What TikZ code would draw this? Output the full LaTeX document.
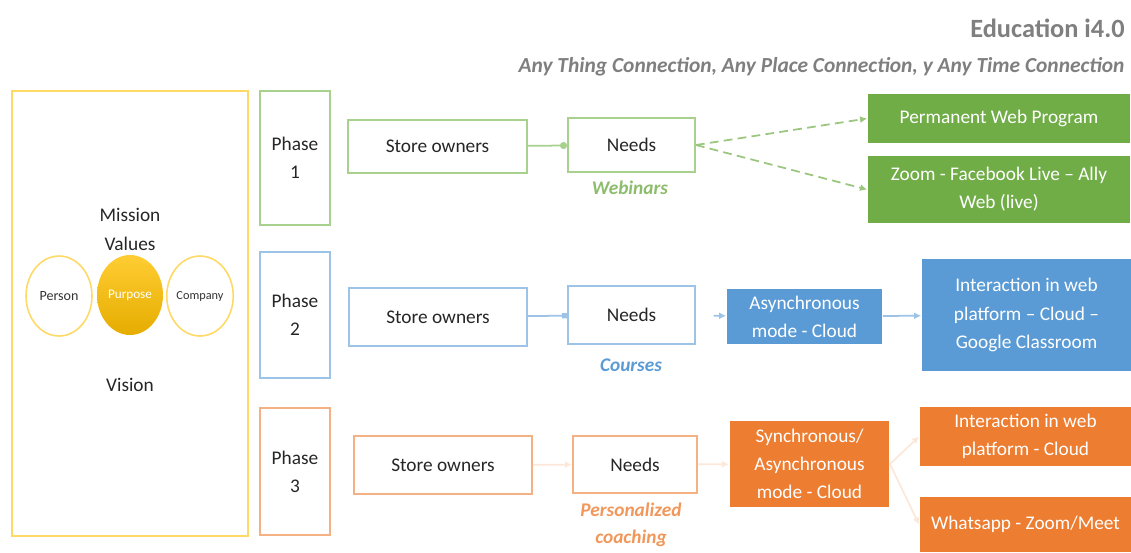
\documentclass[tikz,border=0pt]{standalone}
\usepackage{fontspec}
\setmainfont{Carlito}
\usetikzlibrary{arrows.meta,shapes.geometric}
\definecolor{offgreen}{HTML}{70AD47}
\definecolor{litegreen}{HTML}{A9D18E}
\definecolor{offblue}{HTML}{5B9BD5}
\definecolor{liteblue}{HTML}{9DC3E6}
\definecolor{offorange}{HTML}{ED7D31}
\definecolor{liteorange}{HTML}{F4B183}
\definecolor{gold}{HTML}{FFC000}
\definecolor{litegold}{HTML}{FFD966}
\definecolor{titlegray}{HTML}{7F7F7F}
\tikzset{
  box/.style={draw, line width=1.1pt, align=center, inner sep=0pt,
    font=\fontsize{11}{16}\selectfont, text=black!85},
  fillbox/.style={box, draw=none, text=white},
  tag/.style={font=\fontsize{11}{15}\selectfont\bfseries\itshape, align=center},
  ring/.style={ellipse, draw=litegold, line width=0.9pt, inner sep=0pt,
    minimum width=1.32cm, minimum height=1.6cm, text=black!80},
  link/.style={line width=1pt, -{Latex[length=4pt,width=4pt]}},
}
\begin{document}
\begin{tikzpicture}[x=0.02cm,y=-0.02cm]
  \useasboundingbox (0,0) rectangle (1131,552);
  % title
  \node[anchor=east, inner sep=0pt, text=titlegray, font=\fontsize{15}{18}\selectfont\bfseries]
    (title) at (1125,28) {Education i4.0};
  \node[anchor=east, inner sep=0pt, text=titlegray, font=\fontsize{12.2}{14}\selectfont\bfseries\itshape]
    (subtitle) at (1125,67) {Any Thing Connection, Any Place Connection, y Any Time Connection};
  % left panel
  \node[box, draw=litegold, minimum width=4.72cm, minimum height=8.9cm] (panel) at (130,313.5) {};
  \node[font=\fontsize{11}{16}\selectfont, text=black!85] (mission) at (130,215) {Mission};
  \node[font=\fontsize{11}{16}\selectfont, text=black!85] (values) at (130,244) {Values};
  \node[font=\fontsize{11}{16}\selectfont, text=black!85] (vision) at (130,385) {Vision};
  \node[ring, font=\fontsize{8}{9}\selectfont] (person) at (59,296) {Person};
  \node[ring, draw=none, top color=gold!80, bottom color=gold!90!black, text=white,
    font=\fontsize{7.5}{9}\selectfont] (purpose) at (130,295) {Purpose};
  \node[ring, font=\fontsize{7}{8}\selectfont] (company) at (200,296) {Company};
  % phase 1
  \node[box, draw=litegreen, minimum width=1.4cm, minimum height=2.68cm] (ph1) at (295,158) {Phase\\1};
  \node[box, draw=litegreen, minimum width=3.58cm, minimum height=1.06cm] (own1) at (437.5,146.5) {Store owners};
  \node[box, draw=litegreen, minimum width=2.54cm, minimum height=1.08cm] (need1) at (631.5,145) {Needs};
  \node[tag, text=offgreen!80] (web) at (630,188) {Webinars};
  \node[fillbox, fill=offgreen, minimum width=5.24cm, minimum height=0.98cm] (perm) at (999,118.5) {Permanent Web Program};
  \node[fillbox, fill=offgreen, minimum width=5.24cm, minimum height=1.34cm] (live) at (999,189.5) {Zoom - Facebook Live -- Ally\\Web (live)};
  \draw[line width=1pt, litegreen, -{Circle[length=4pt]}] (own1) -- (need1);
  \draw[link, offgreen!70, dash pattern=on 5pt off 3pt] (need1.east) -- (perm.west);
  \draw[link, offgreen!70, dash pattern=on 5pt off 3pt] (need1.east) -- (live.west);
  % phase 2
  \node[box, draw=liteblue, minimum width=1.4cm, minimum height=2.52cm] (ph2) at (295,315) {Phase\\2};
  \node[box, draw=liteblue, minimum width=3.56cm, minimum height=1.16cm] (own2) at (438,317) {Store owners};
  \node[box, draw=liteblue, minimum width=2.54cm, minimum height=1.16cm] (need2) at (631.5,315) {Needs};
  \node[tag, text=offblue] (course) at (631,365) {Courses};
  \node[fillbox, fill=offblue, minimum width=3.1cm, minimum height=1.1cm] (async) at (804.5,316.5) {Asynchronous\\mode - Cloud};
  \node[fillbox, fill=offblue, minimum width=4.18cm, minimum height=2.24cm] (class) at (1026.5,315) {Interaction in web\\platform -- Cloud --\\Google Classroom};
  \draw[line width=1pt, liteblue, -{Square[length=3pt]}] (own2) -- (need2);
  \draw[link, liteblue, shorten <=10pt] (need2) -- (async);
  \draw[link, liteblue] (async) -- (class);
  % phase 3
  \node[box, draw=liteorange, minimum width=1.4cm, minimum height=2.54cm] (ph3) at (295,471.5) {Phase\\3};
  \node[box, draw=liteorange, minimum width=3.56cm, minimum height=1.16cm] (own3) at (443,465) {Store owners};
  \node[box, draw=liteorange, minimum width=2.48cm, minimum height=1.14cm] (need3) at (635,464.5) {Needs};
  \node[tag, text=offorange!80] (coach) at (631,525) {Personalized\\coaching};
  \node[fillbox, fill=offorange, minimum width=3.18cm, minimum height=1.72cm] (sync) at (809.5,464) {Synchronous/\\Asynchronous\\mode - Cloud};
  \node[fillbox, fill=offorange, minimum width=4.22cm, minimum height=1.18cm] (cloud) at (1025.5,436.5) {Interaction in web\\platform - Cloud};
  \node[fillbox, fill=offorange, minimum width=4.22cm, minimum height=1.1cm] (chat) at (1025.5,524.5) {Whatsapp - Zoom/Meet};
  \draw[link, liteorange!30] (own3) -- (need3);
  \draw[link, liteorange!30] (need3) -- (sync);
  \draw[link, liteorange!30] (sync.east) -- (cloud.west);
  \draw[link, liteorange!30] (sync.east) -- (chat.west);
\end{tikzpicture}
\end{document}
